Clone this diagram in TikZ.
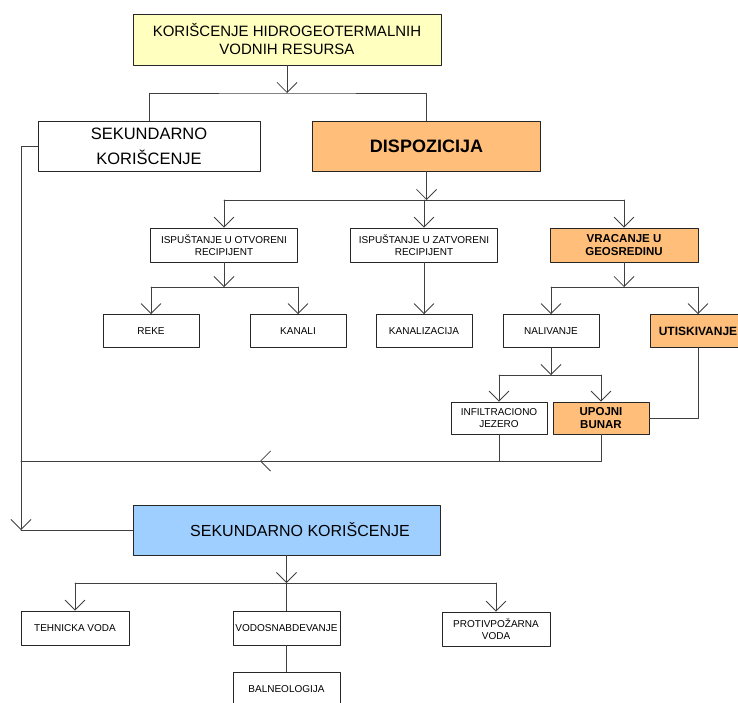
\documentclass[tikz,border=0pt]{standalone}
\usepackage{fontspec}
\setmainfont{Liberation Sans}
\usepackage{xcolor}
\usetikzlibrary{arrows.meta,calc}

\definecolor{boxyellow}{HTML}{FFFFC0}
\definecolor{boxorange}{HTML}{FFBF7A}
\definecolor{boxblue}{HTML}{9FCFFF}

\begin{document}
\begin{tikzpicture}[x=1pt, y=-1pt, line cap=round, line join=round,
	box/.style={draw=black!85, line width=0.8pt, inner sep=0pt, align=center,
		minimum width=96pt, minimum height=33pt, font=\fontsize{10}{12.5}\selectfont},
	hot/.style={box, fill=boxorange, font=\bfseries\fontsize{11.5}{13}\selectfont},
	link/.style={draw=black!75, line width=0.8pt},
	open/.style={link, -{Straight Barb[length=10pt,width=20pt]}}]
			
			\useasboundingbox (0,0) rectangle (738,702);
			
			%====================
			% 1) vrh: izvor i dve grane
			%====================
			\node[box, fill=boxyellow, minimum width=308pt, minimum height=51pt,
				font=\fontsize{15}{18}\selectfont] (izvor) at (287,39.5)
				{KORIŠCENJE HIDROGEOTERMALNIH\\VODNIH RESURSA};
			\node[box, minimum width=222pt, minimum height=50pt,
				font=\fontsize{16.5}{25}\selectfont] (sek) at (149,146) {SEKUNDARNO\\KORIŠCENJE};
			\node[hot, minimum width=228pt, minimum height=50pt,
				font=\bfseries\fontsize{18}{20}\selectfont] (disp) at (426.5,146) {DISPOZICIJA};
			
			\coordinate (j1) at (287,93);
			\draw[open] (izvor.south) -- (j1);
			\draw[link] (sek.north) |- (j1) -| (disp.north);
			
			%====================
			% 2) dispozicija: tri nacina
			%====================
			\node[box, minimum width=147pt, minimum height=34pt] (otv) at (224,245) {ISPUŠTANJE U OTVORENI\\RECIPIJENT};
			\node[box, minimum width=147pt, minimum height=34pt] (zat) at (424,245) {ISPUŠTANJE U ZATVORENI\\RECIPIJENT};
			\node[hot, minimum width=148pt, minimum height=34pt] (vrac) at (624,245) {VRACANJE U\\GEOSREDINU};
			
			\coordinate (j2) at (426.5,200);
			\draw[open] (disp.south) -- (j2);
			\draw[link] (otv.north |- j2) -- (vrac.north |- j2);
			\draw[open] (otv.north |- j2) -- (otv.north);
			\draw[open] (zat.north |- j2) -- (zat.north);
			\draw[open] (vrac.north |- j2) -- (vrac.north);
			
			%====================
			% 3) treci red
			%====================
			\node[box] (reke) at (151,331) {REKE};
			\node[box] (kanali) at (298,331) {KANALI};
			\node[box] (kanaliz) at (424,331) {KANALIZACIJA};
			\node[box] (naliv) at (551,331) {NALIVANJE};
			\node[hot, font=\bfseries\fontsize{12}{14}\selectfont] (utis) at (698,331) {UTISKIVANJE};
			
			\coordinate (j3) at (224,287);
			\draw[open] (otv.south) -- (j3);
			\draw[link] (reke.north |- j3) -- (kanali.north |- j3);
			\draw[open] (reke.north |- j3) -- (reke.north);
			\draw[open] (kanali.north |- j3) -- (kanali.north);
			
			\draw[open] (zat.south) -- (kanaliz.north);
			
			\coordinate (j4) at (624,287);
			\draw[open] (vrac.south) -- (j4);
			\draw[link] (naliv.north |- j4) -- (utis.north |- j4);
			\draw[open] (naliv.north |- j4) -- (naliv.north);
			\draw[open] (utis.north |- j4) -- (utis.north);
			
			%====================
			% 4) nalivanje i utiskivanje
			%====================
			\node[box, minimum height=32pt] (infil) at (499,418) {INFILTRACIONO\\JEZERO};
			\node[hot, minimum height=32pt] (upojni) at (601,418) {UPOJNI\\BUNAR};
			
			\coordinate (j5) at (551,375);
			\draw[open] (naliv.south) -- (j5);
			\draw[link] (infil.north |- j5) -- (upojni.north |- j5);
			\draw[open] (infil.north |- j5) -- (infil.north);
			\draw[open] (upojni.north |- j5) -- (upojni.north);
			
			\draw[link] (utis.south) |- (upojni.east);
			
			%====================
			% 5) povratni vod ulevo
			%====================
			\coordinate (povrat) at (260,461);
			\coordinate (levo) at (21,461);
			\coordinate (ugao) at (21,530);
			
			\draw[link] (infil.south) -- (infil.south |- povrat);
			\draw[open] (upojni.south) |- (povrat);
			\draw[link] (povrat) -- (levo);
			\draw[open] (sek.west) -| (ugao);
			
			%====================
			% 6) sekundarno koriscenje
			%====================
			\node[box, fill=boxblue, minimum width=307pt, minimum height=50pt,
				font=\fontsize{16}{18}\selectfont] (sek2) at (286.5,530) {\hspace*{27pt}SEKUNDARNO KORIŠCENJE};
			\draw[link] (sek2.west) -- (ugao);
			
			\node[box, minimum width=108pt, minimum height=34pt] (tehn) at (75,628) {TEHNICKA VODA};
			\node[box, minimum width=107pt, minimum height=34pt] (vodo) at (286.5,628) {VODOSNABDEVANJE};
			\node[box, minimum width=108pt, minimum height=34pt] (prot) at (496,629) {PROTIVPOŽARNA\\VODA};
			\node[box, minimum width=107pt, minimum height=34pt] (baln) at (286.5,689) {BALNEOLOGIJA};
			
			\coordinate (j6) at (286.5,583);
			\draw[open] (sek2.south) -- (j6);
			\draw[link] (tehn.north |- j6) -- (prot.north |- j6);
			\draw[open] (tehn.north |- j6) -- (tehn.north);
			\draw[open] (prot.north |- j6) -- (prot.north);
			\draw[link] (j6) -- (vodo.north);
			\draw[link] (vodo.south) -- (baln.north);
			
		\end{tikzpicture}
\end{document}
